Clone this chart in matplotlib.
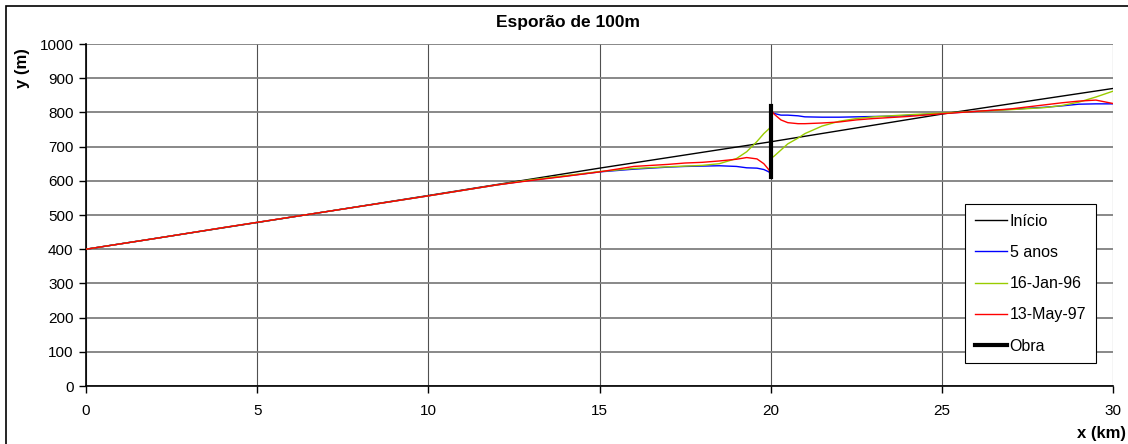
import matplotlib.pyplot as plt
from matplotlib.patches import Rectangle

plt.rcParams['font.family'] = ['Liberation Sans', 'DejaVu Sans']

# initial coastline position (km, m)
x_inicio = [0, 5, 10, 15, 20, 25, 30]
y_inicio = [400, 478, 557, 637, 714, 795, 870]

# common sample positions for the evolved coastlines (x=20 appears twice: updrift / downdrift)
x_evol = [0, 2, 4, 6, 8, 10, 12, 13, 14, 15, 16, 17, 17.5, 18, 18.5, 19, 19.3, 19.6,
          19.8, 19.95, 20, 20, 20.1, 20.3, 20.5, 20.8, 21, 21.5, 22, 22.5, 23, 23.5,
          24, 25, 26, 27, 28, 28.5, 29, 29.5, 30]

y_5anos = [400, 431, 463, 494, 525, 556, 588, 602, 614, 626, 634, 640, 642, 643, 644,
           642, 638, 637, 633, 626, 618, 800, 797, 792, 792, 790, 787, 786, 786, 787,
           788, 789, 791, 797, 803, 809, 815, 819, 824, 825, 825]

y_jan96 = [400, 431, 463, 494, 525, 556, 588, 603, 615, 627, 636, 641, 643, 645, 650,
           665, 685, 715, 738, 752, 758, 665, 672, 690, 708, 725, 738, 760, 774, 782,
           787, 790, 793, 798, 803, 808, 814, 820, 830, 845, 862]

y_may97 = [400, 431, 463, 494, 525, 556, 588, 601, 613, 626, 642, 648, 652, 654, 658,
           663, 668, 664, 650, 632, 620, 808, 795, 778, 770, 767, 767, 769, 772, 778,
           782, 785, 788, 796, 803, 810, 822, 828, 833, 836, 826]

# groyne (esporão)
x_obra = [20, 20]
y_obra = [612, 818]

fig = plt.figure(figsize=(11.28, 4.44), dpi=100)
ax = fig.add_axes([86 / 1128, 58 / 444, 1027 / 1128, 342 / 444])

ax.plot(x_inicio, y_inicio, color='black', lw=1.0, label='Início', zorder=3)
ax.plot(x_evol, y_5anos, color='#0000ff', lw=1.0, label='5 anos', zorder=4)
ax.plot(x_evol, y_jan96, color='#99cc00', lw=1.0, label='16-Jan-96', zorder=5)
ax.plot(x_evol, y_may97, color='#ff0000', lw=1.0, label='13-May-97', zorder=6)
ax.plot(x_obra, y_obra, color='black', lw=3.0, label='Obra', zorder=7)

ax.set_xlim(0, 30)
ax.set_ylim(0, 1000)
ax.set_xticks(range(0, 31, 5))
ax.set_yticks(range(0, 1001, 100))
ax.tick_params(labelsize=11, length=5, width=1, direction='out', pad=4)
ax.tick_params(axis='x', pad=8)

ax.grid(axis='y', color='#7f7f7f', lw=1.3, zorder=1)
ax.grid(axis='x', color='#505050', lw=0.8, zorder=1)
ax.set_axisbelow(True)
for side in ('top', 'right'):
    ax.spines[side].set_visible(False)
for side in ('left', 'bottom'):
    ax.spines[side].set_linewidth(1.2)

fig.text(568 / 1128, 1 - 22 / 444, 'Esporão de 100m', ha='center', va='center',
         fontsize=12.5, fontweight='bold')
fig.text(22 / 1128, 1 - 68 / 444, 'y (m)', ha='center', va='center', rotation=90,
         fontsize=12, fontweight='bold')
fig.text(1126 / 1128, 1 - 433 / 444, 'x (km)', ha='right', va='center',
         fontsize=12, fontweight='bold')

leg = ax.legend(loc='upper left', bbox_to_anchor=(965 / 1128, 1 - 204 / 444),
                bbox_transform=fig.transFigure, fontsize=11.5, frameon=True,
                fancybox=False, edgecolor='black', framealpha=1,
                handlelength=2.0, handletextpad=0.2, labelspacing=1.02,
                borderpad=0.6, borderaxespad=0)
leg.get_frame().set_linewidth(0.8)

# chart-area frame; right and bottom edges run off the canvas
fig.patches.append(Rectangle((6 / 1128, -0.05), 1.1, 1 - 6 / 444 + 0.05,
                             transform=fig.transFigure, fill=False,
                             edgecolor='black', lw=1.2))

fig.savefig('out.png', dpi=100)
